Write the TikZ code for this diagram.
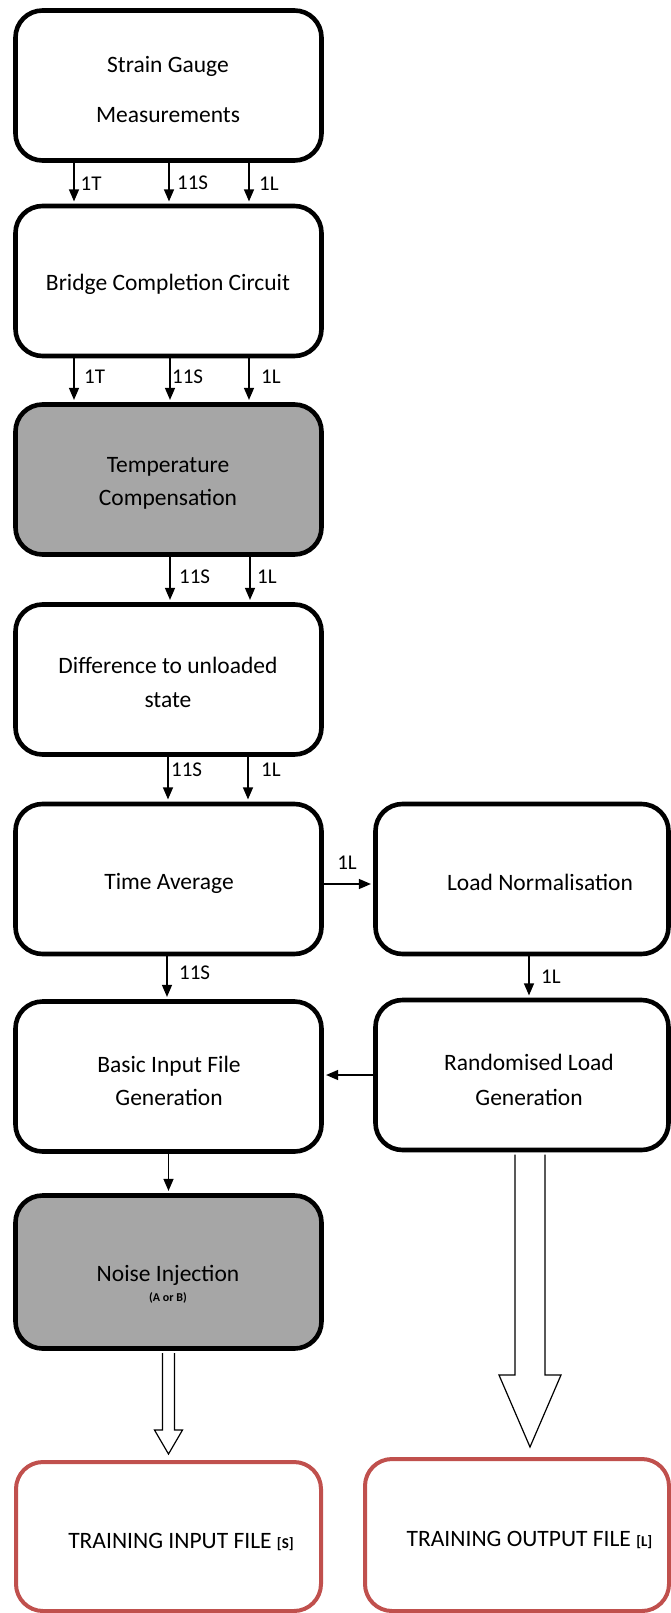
\documentclass[tikz,border=0pt]{standalone}
\usepackage{fontspec}
\setmainfont{Carlito}
\usetikzlibrary{arrows.meta,calc}
\definecolor{boxgray}{HTML}{A6A6A6}
\definecolor{filered}{HTML}{C0504D}
\begin{document}
\begin{tikzpicture}[x=1pt,y=-1pt,
  box/.style={draw=black, line width=4.6pt, rounded corners=27pt, fill=white,
    minimum width=306pt, minimum height=150pt, inner sep=0pt},
  shaded/.style={box, fill=boxgray},
  outfile/.style={box, draw=filered, line width=4pt},
  txt/.style={font=\fontsize{23.5}{33}\selectfont, align=center, inner sep=0pt},
  lbl/.style={font=\fontsize{21}{21}\selectfont, inner sep=0pt},
  conn/.style={line width=1.3pt, -{Triangle[width=10pt,length=12pt]}, shorten >=2.3pt},
  hollow/.style={line width=1.2pt, fill=white, line join=miter}
]
\useasboundingbox (0,0) rectangle (671,1613);

% processing blocks
\node[box] (sg) at (168.5,85.5) {};
\node[box] (bc) at (168.5,281) {};
\node[shaded] (tc) at (168.5,479.5) {};
\node[box] (du) at (168.5,679.5) {};
\node[box] (ta) at (168.5,879) {};
\node[box, minimum width=293pt] (ln) at (522,879) {};
\node[box] (bi) at (168.5,1076.5) {};
\node[box, minimum width=293pt] (rl) at (522,1075) {};
\node[shaded, minimum height=153pt] (ni) at (168.5,1272) {};
\node[outfile, minimum width=305pt, minimum height=149pt] (ti) at (168.5,1536.5) {};
\node[outfile, minimum width=304pt, minimum height=152pt] (to) at (517,1535) {};

% block texts
\node[txt, font=\fontsize{23.5}{50}\selectfont] (sg-t) at (168,90) {Strain Gauge\\Measurements};
\node[txt] (bc-t) at (168,284.5) {Bridge Completion Circuit};
\node[txt] (tc-t) at (168,483.5) {Temperature\\Compensation};
\node[txt, font=\fontsize{23.5}{34}\selectfont] (du-t) at (168,682) {Difference to unloaded\\state};
\node[txt] (ta-t) at (169,883) {Time Average};
\node[txt] (ln-t) at (540,882) {Load Normalisation};
\node[txt] (bi-t) at (169,1080.5) {Basic Input File\\Generation};
\node[txt, font=\fontsize{23.5}{35}\selectfont] (rl-t) at (529,1079.5) {Randomised Load\\Generation};
\node[txt] (ni-t) at (168,1275) {Noise Injection};
\node[txt, font=\fontsize{12}{12}\selectfont\bfseries] (ni-s) at (168,1298) {(A or B)};
\node[txt] (ti-t) at (181,1542) {TRAINING INPUT FILE {\bfseries\fontsize{15}{15}\selectfont[S]}};
\node[txt] (to-t) at (529.5,1540) {TRAINING OUTPUT FILE {\bfseries\fontsize{15}{15}\selectfont[L]}};

% signal channels between blocks
\draw[conn] ([xshift=-94.5pt]sg.south) -- ([xshift=-94.5pt]bc.north)
  node[lbl, pos=0.5, anchor=west, xshift=6pt] (l1a) {1T};
\draw[conn] ([xshift=0.5pt]sg.south) -- ([xshift=0.5pt]bc.north)
  node[lbl, pos=0.5, anchor=west, xshift=7.5pt] (l1b) {11S};
\draw[conn] ([xshift=80.5pt]sg.south) -- ([xshift=80.5pt]bc.north)
  node[lbl, pos=0.5, anchor=west, xshift=9.5pt] (l1c) {1L};

\draw[conn] ([xshift=-94.5pt]bc.south) -- ([xshift=-94.5pt]tc.north)
  node[lbl, pos=0.43, anchor=west, xshift=9.5pt] (l2a) {1T};
\draw[conn] ([xshift=1.5pt]bc.south) -- ([xshift=1.5pt]tc.north)
  node[lbl, pos=0.43, anchor=west, xshift=1.5pt] (l2b) {11S};
\draw[conn] ([xshift=80.5pt]bc.south) -- ([xshift=80.5pt]tc.north)
  node[lbl, pos=0.43, anchor=west, xshift=11.5pt] (l2c) {1L};

\draw[conn] ([xshift=1.5pt]tc.south) -- ([xshift=1.5pt]du.north)
  node[lbl, pos=0.45, anchor=west, xshift=8.5pt] (l3b) {11S};
\draw[conn] ([xshift=81.5pt]tc.south) -- ([xshift=81.5pt]du.north)
  node[lbl, pos=0.45, anchor=west, xshift=6.5pt] (l3c) {1L};

\draw[conn] ([xshift=-0.5pt]du.south) -- ([xshift=-0.5pt]ta.north)
  node[lbl, pos=0.28, anchor=west, xshift=2.5pt] (l4b) {11S};
\draw[conn] ([xshift=79.5pt]du.south) -- ([xshift=79.5pt]ta.north)
  node[lbl, pos=0.28, anchor=west, xshift=12.5pt] (l4c) {1L};

\draw[conn] ([yshift=-5pt]ta.east) -- ([yshift=-5pt]ln.west)
  node[lbl, pos=0.47, anchor=south, yshift=14pt] (l5) {1L};
\draw[conn] ([xshift=-1.5pt]ta.south) -- ([xshift=-1.5pt]bi.north)
  node[lbl, pos=0.39, anchor=west, xshift=11.5pt] (l6) {11S};
\draw[conn] ([xshift=7pt]ln.south) -- ([xshift=7pt]rl.north)
  node[lbl, pos=0.49, anchor=west, xshift=11.5pt] (l7) {1L};
\draw[conn] (rl.west) -- (rl.west -| bi.east);
\draw[conn] (bi.south) -- (ni.north);

% hollow block arrows into the output files
\coordinate (na) at ([yshift=-2.3pt]ni.south);
\coordinate (nt) at ([yshift=6pt]ti.north);
\draw[hollow] ([xshift=-6pt]na) -- ([xshift=-6pt,yshift=24pt]nt)
  -- ([xshift=-14pt,yshift=24pt]nt) -- (nt) -- ([xshift=14pt,yshift=24pt]nt)
  -- ([xshift=6pt,yshift=24pt]nt) -- ([xshift=6pt]na);

\coordinate (ra) at ([xshift=8pt,yshift=-2.3pt]rl.south);
\coordinate (rt) at ([xshift=13pt,yshift=10pt]to.north);
\draw[hollow] ([xshift=-15pt]ra) -- ([xshift=-15pt,yshift=72pt]rt)
  -- ([xshift=-31pt,yshift=72pt]rt) -- (rt) -- ([xshift=31pt,yshift=72pt]rt)
  -- ([xshift=15pt,yshift=72pt]rt) -- ([xshift=15pt]ra);
\end{tikzpicture}
\end{document}
